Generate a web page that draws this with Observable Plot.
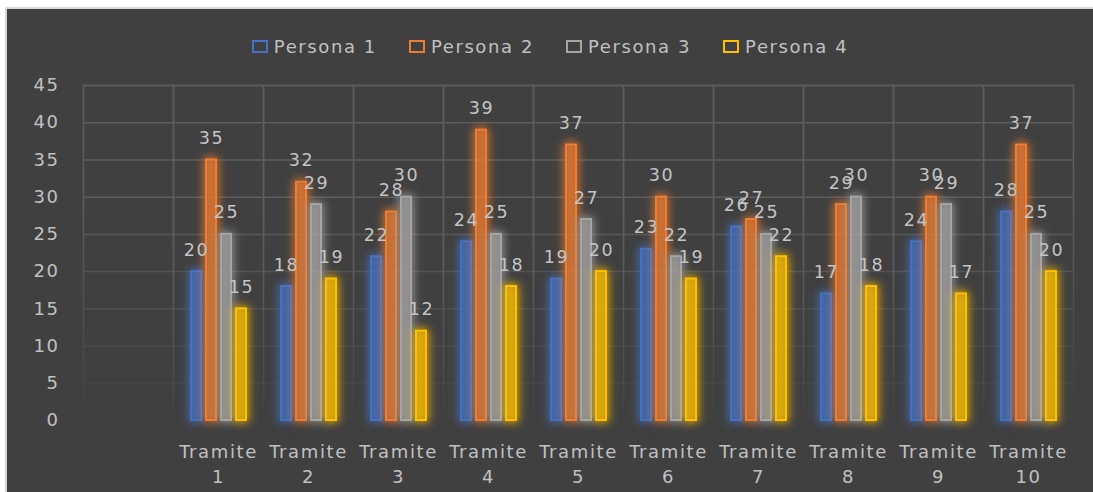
<!DOCTYPE html>
<html>
<head>
<meta charset="utf-8">
<script src="https://cdn.jsdelivr.net/npm/d3@7"></script>
<script src="https://cdn.jsdelivr.net/npm/@observablehq/plot@0.6"></script>
<style>
  html, body { margin: 0; padding: 0; background: #ffffff; }
  #frame {
    position: absolute; left: 5px; top: 7px;
    width: 1086px; height: 483px;
    background: #404040;
    border-left: 2px solid #d4d4d4; border-top: 2px solid #d9d9d9;
    overflow: hidden;
  }
  #legend {
    height: 53px; box-sizing: border-box; padding-top: 22px;
    display: flex; justify-content: center; gap: 32px;
    font-family: "DejaVu Sans", sans-serif; font-size: 18px; letter-spacing: 1.6px;
    color: #c0c0c0; line-height: 22px;
  }
  .item { display: flex; align-items: center; }
  .sw { width: 12px; height: 9px; border: 2px solid; margin-right: 6px; }
  #chart svg { display: block; }
</style>
</head>
<body>
<div id="frame">
  <div id="legend"></div>
  <div id="chart"></div>
</div>
<script>
const categories = ["Tramite 1", "Tramite 2", "Tramite 3", "Tramite 4", "Tramite 5",
                    "Tramite 6", "Tramite 7", "Tramite 8", "Tramite 9", "Tramite 10"];
const series = ["Persona 1", "Persona 2", "Persona 3", "Persona 4"];
const persona1 = [20, 18, 22, 24, 19, 23, 26, 17, 24, 28];
const persona2 = [35, 32, 28, 39, 37, 30, 27, 29, 30, 37];
const persona3 = [25, 29, 30, 25, 27, 22, 25, 30, 29, 25];
const persona4 = [15, 19, 12, 18, 20, 19, 22, 18, 17, 20];
const colors = ["#4472C4", "#ED7D31", "#A5A5A5", "#FFC000"];
const yTicks = [0, 5, 10, 15, 20, 25, 30, 35, 40, 45];

const values = [persona1, persona2, persona3, persona4];
const data = [];
categories.forEach((c, i) => series.forEach((s, j) => data.push({cat: c, series: s, value: values[j][i]})));

// legend
const legend = document.getElementById("legend");
series.forEach((s, j) => {
  const it = document.createElement("div");
  it.className = "item";
  it.innerHTML = `<span class="sw" style="border-color:${colors[j]}"></span><span>${s}</span>`;
  legend.appendChild(it);
});

const fxDomain = [""].concat(categories);

const chart = Plot.plot({
  width: 1086,
  height: 430,
  marginTop: 23,
  marginBottom: 72,
  marginLeft: 73,
  marginRight: 18,
  style: {background: "transparent", color: "#c0c0c0", fontFamily: "DejaVu Sans, sans-serif", fontSize: "18px", letterSpacing: "1.6px"},
  fx: {domain: fxDomain, paddingInner: 0, paddingOuter: 0, label: null, axis: null},
  x: {domain: series, paddingInner: 0.2, paddingOuter: 1.1, axis: null},
  y: {domain: [0, 45], axis: null},
  color: {domain: series, range: colors},
  marks: [
    // invisible anchor so the leading empty category keeps its grid cell
    Plot.ruleY([{cat: "", v: 0}], {fx: "cat", y: "v", strokeOpacity: 0}),
    Plot.gridY(yTicks.filter(d => d > 0), {stroke: "url(#gridFade)", strokeOpacity: 1, strokeWidth: 1.5}),
    Plot.frame({stroke: "url(#gridFade)", strokeWidth: 1.5}),
    Plot.axisY(yTicks, {anchor: "left", tickSize: 0, tickPadding: 24, fontSize: 18, label: null, facetAnchor: "left"}),
    Plot.axisFx({anchor: "bottom", tickSize: 0, tickPadding: 20, fontSize: 18, lineHeight: 1.39, label: null,
                 tickFormat: d => d ? d.replace(" ", "\n") : ""}),
    Plot.barY(data, {fx: "cat", x: "series", y: "value", stroke: "series", fill: "series",
                     fillOpacity: 0.42, strokeWidth: 2, insetLeft: 1, insetRight: 1}),
    Plot.text(data, {fx: "cat", x: "series", y: "value", text: d => String(d.value), dy: -16,
                     lineAnchor: "bottom", fill: "#c4c4c4", fontSize: 17.5})
  ]
});

chart.insertAdjacentHTML("afterbegin",
  `<defs><linearGradient id="gridFade" gradientUnits="userSpaceOnUse" x1="0" y1="23" x2="0" y2="358">
     <stop offset="0" stop-color="#5c5c5c" stop-opacity="1"/>
     <stop offset="0.35" stop-color="#5c5c5c" stop-opacity="1"/>
     <stop offset="1" stop-color="#5c5c5c" stop-opacity="0"/>
   </linearGradient></defs>`);

d3.select(chart).selectAll("g[aria-label='bar'] rect").each(function() {
  const c = this.getAttribute("stroke");
  this.style.filter = `drop-shadow(0 0 4px ${c}) drop-shadow(0 0 5px ${c}88)`;
});

document.getElementById("chart").appendChild(chart);
</script>
</body>
</html>
